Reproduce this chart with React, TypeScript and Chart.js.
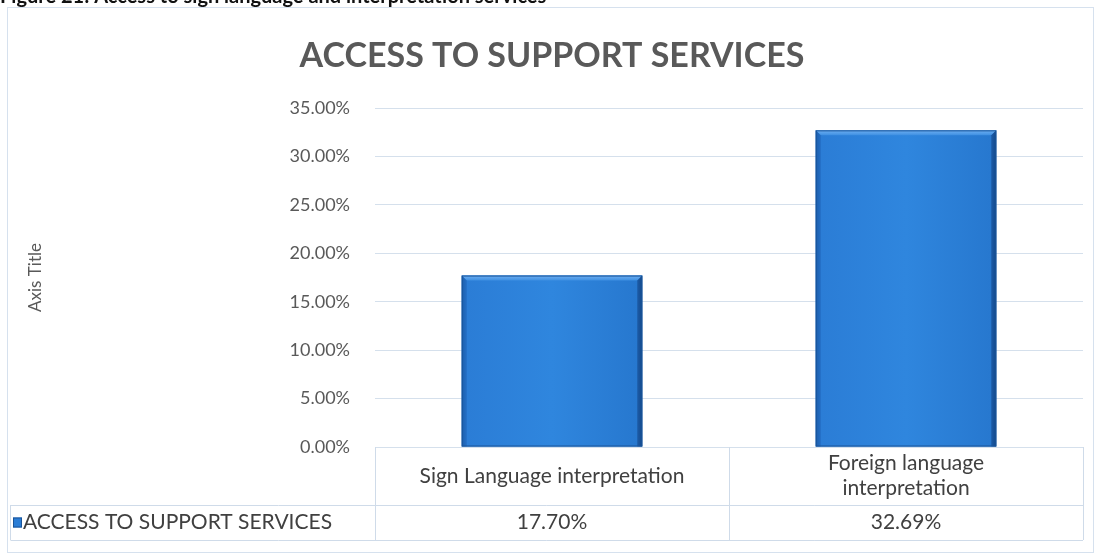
import React, { useEffect, useRef } from "react";
import { Chart, registerables } from "chart.js";

Chart.register(...registerables);

const caption = "Figure 21: Access to sign language and interpretation services";
const chartTitle = "ACCESS TO SUPPORT SERVICES";
const axisTitle = "Axis Title";
const seriesName = "ACCESS TO SUPPORT SERVICES";
const categories = ["Sign Language interpretation", "Foreign language\ninterpretation"];
const values = [17.7, 32.69];
const yMin = 0;
const yMax = 35;
const yStep = 5;

const FONT = "Lato, 'Open Sans', sans-serif";
const TEXT = "#595959";
const TABLE_TEXT = "#404040";
const LINE = "#cfdbe9";
const BAR = "#2a7dd6";

const fmt = (v: number) => v.toFixed(2) + "%";

const decorPlugin = {
  id: "decor",
  beforeDraw(chart: any) {
    const ctx = chart.ctx as CanvasRenderingContext2D;
    ctx.save();
    ctx.fillStyle = "#ffffff";
    ctx.fillRect(0, 0, chart.width, chart.height);
    // outer chart border
    ctx.strokeStyle = "#d6e1ee";
    ctx.lineWidth = 1;
    ctx.strokeRect(7.5, 7.5, chart.width - 15, chart.height - 13);
    // cut-off caption
    ctx.fillStyle = "#111111";
    ctx.font = `bold 20px ${FONT}`;
    ctx.textAlign = "left";
    ctx.textBaseline = "alphabetic";
    ctx.fillText(caption, 0, 3);
    ctx.restore();
  },
  afterDatasetsDraw(chart: any) {
    const ctx = chart.ctx as CanvasRenderingContext2D;
    const meta = chart.getDatasetMeta(0);
    ctx.save();
    meta.data.forEach((el: any) => {
      const { x, y, base, width } = el.getProps(["x", "y", "base", "width"], true);
      const l = x - width / 2;
      const r = x + width / 2;
      const t = y;
      const b = base;
      const bv = 5;
      const g = ctx.createLinearGradient(l, 0, r, 0);
      g.addColorStop(0, "#1f66b8");
      g.addColorStop(0.03, "#2b7dd6");
      g.addColorStop(0.5, "#2f86de");
      g.addColorStop(0.97, "#2778cf");
      g.addColorStop(1, "#17539a");
      ctx.fillStyle = g;
      ctx.fillRect(l, t, r - l, b - t);
      // top bevel
      ctx.beginPath();
      ctx.moveTo(l, t);
      ctx.lineTo(r, t);
      ctx.lineTo(r - bv, t + bv);
      ctx.lineTo(l + bv, t + bv);
      ctx.closePath();
      const tg = ctx.createLinearGradient(0, t, 0, t + bv);
      tg.addColorStop(0, "#6fb0f2");
      tg.addColorStop(1, "#3d8fe2");
      ctx.fillStyle = tg;
      ctx.fill();
      // left bevel
      ctx.beginPath();
      ctx.moveTo(l, t);
      ctx.lineTo(l + bv, t + bv);
      ctx.lineTo(l + bv, b);
      ctx.lineTo(l, b);
      ctx.closePath();
      ctx.fillStyle = "rgba(20,70,140,0.22)";
      ctx.fill();
      // right bevel
      ctx.beginPath();
      ctx.moveTo(r, t);
      ctx.lineTo(r - bv, t + bv);
      ctx.lineTo(r - bv, b);
      ctx.lineTo(r, b);
      ctx.closePath();
      ctx.fillStyle = "rgba(15,55,115,0.4)";
      ctx.fill();
      ctx.strokeStyle = "#1a5498";
      ctx.lineWidth = 1;
      ctx.strokeRect(l + 0.5, t + 0.5, r - l - 1, b - t - 1);
    });
    ctx.restore();
  },
  afterDraw(chart: any) {
    const ctx = chart.ctx as CanvasRenderingContext2D;
    const area = chart.chartArea;
    const xs = chart.scales.x;
    ctx.save();
    // chart title
    ctx.fillStyle = TEXT;
    ctx.font = `bold 34px ${FONT}`;
    ctx.textAlign = "center";
    ctx.textBaseline = "alphabetic";
    ctx.fillText(chartTitle, 552, 67);
    // axis title
    ctx.save();
    ctx.translate(36, (area.top + area.bottom) / 2);
    ctx.rotate(-Math.PI / 2);
    ctx.font = `17px ${FONT}`;
    ctx.textBaseline = "middle";
    ctx.fillText(axisTitle, 0, 0);
    ctx.restore();

    // data table
    const rowTop = area.bottom;
    const rowMid = rowTop + 58;
    const rowBot = rowMid + 35;
    const legendLeft = 10.5;
    const n = categories.length;
    const bounds: number[] = [area.left];
    for (let i = 0; i < n - 1; i++) {
      bounds.push((xs.getPixelForValue(i) + xs.getPixelForValue(i + 1)) / 2);
    }
    bounds.push(area.right);
    ctx.strokeStyle = LINE;
    ctx.lineWidth = 1;
    ctx.beginPath();
    bounds.forEach((bx) => {
      const px = Math.round(bx) + 0.5;
      ctx.moveTo(px, rowTop);
      ctx.lineTo(px, rowBot);
    });
    ctx.moveTo(legendLeft, Math.round(rowMid) + 0.5);
    ctx.lineTo(area.right, Math.round(rowMid) + 0.5);
    ctx.moveTo(legendLeft, Math.round(rowBot) + 0.5);
    ctx.lineTo(area.right, Math.round(rowBot) + 0.5);
    ctx.moveTo(legendLeft, rowMid);
    ctx.lineTo(legendLeft, rowBot);
    ctx.stroke();

    ctx.fillStyle = TABLE_TEXT;
    ctx.font = `21px ${FONT}`;
    ctx.textAlign = "center";
    ctx.textBaseline = "middle";
    categories.forEach((c, i) => {
      const cx = xs.getPixelForValue(i);
      const lines = c.split("\n");
      const lh = 25;
      const cy = (rowTop + rowMid) / 2 - ((lines.length - 1) * lh) / 2;
      lines.forEach((ln, j) => ctx.fillText(ln, cx, cy + j * lh));
      ctx.fillText(fmt(values[i]), cx, (rowMid + rowBot) / 2);
    });
    // legend key + series name
    const ky = (rowMid + rowBot) / 2;
    ctx.fillStyle = BAR;
    ctx.fillRect(13, ky - 5, 9, 10);
    ctx.strokeStyle = "#1a5498";
    ctx.strokeRect(13.5, ky - 4.5, 8, 9);
    ctx.fillStyle = TABLE_TEXT;
    ctx.textAlign = "left";
    ctx.fillText(seriesName, 23, ky);
    ctx.restore();
  },
};

export default function App() {
  const ref = useRef<HTMLCanvasElement>(null);
  useEffect(() => {
    document.body.style.margin = "0";
    const chart = new Chart(ref.current as HTMLCanvasElement, {
      type: "bar",
      data: {
        labels: categories.map((c) => c.split("\n")),
        datasets: [
          {
            label: seriesName,
            data: values,
            backgroundColor: BAR,
            borderWidth: 0,
            categoryPercentage: 1,
            barPercentage: 0.51,
          },
        ],
      },
      options: {
        responsive: false,
        animation: false,
        devicePixelRatio: 1,
        layout: { padding: { top: 108, bottom: 111, left: 0, right: 18 } },
        plugins: {
          legend: { display: false },
          tooltip: { enabled: false },
          title: { display: false },
        },
        scales: {
          x: { display: false },
          y: {
            min: yMin,
            max: yMax,
            border: { display: false },
            grid: { color: "#d5e0ec", lineWidth: 1, drawTicks: false },
            ticks: {
              stepSize: yStep,
              padding: 25,
              color: TEXT,
              font: { family: FONT, size: 18 },
              callback: (v: any) => fmt(Number(v)),
            },
            afterFit: (scale: any) => {
              scale.width = 375;
            },
          },
        },
      },
      plugins: [decorPlugin],
    } as any);
    return () => chart.destroy();
  }, []);
  return (
    <div style={{ width: 1101, height: 558 }}>
      <canvas ref={ref} width={1101} height={558} />
    </div>
  );
}
